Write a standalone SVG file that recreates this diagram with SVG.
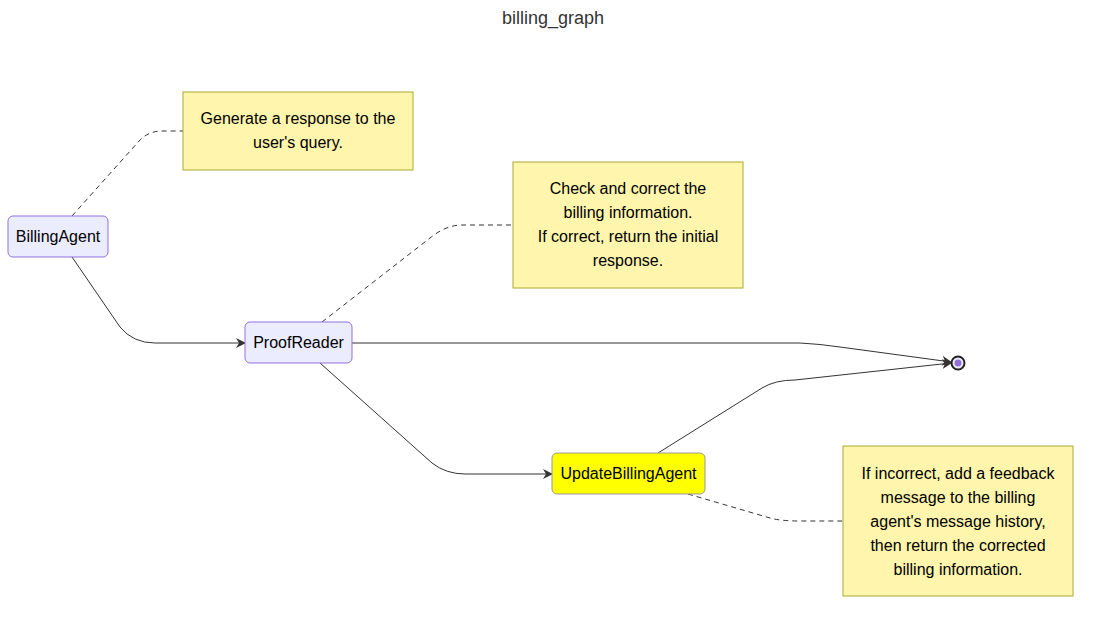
<svg xmlns="http://www.w3.org/2000/svg" width="1107" height="640" viewBox="0 0 1107 640">
<style>
text{font-family:"Liberation Sans",Arial,sans-serif;font-size:16px;fill:#000;text-anchor:middle}
.title{font-size:18px;fill:#333}
.node{fill:#ECECFF;stroke:#9370DB;stroke-width:1}
.note{fill:#fff5ad;stroke:#aaaa33;stroke-width:1}
.edge{fill:none;stroke:#333;stroke-width:1}
.dash{fill:none;stroke:#333;stroke-width:1;stroke-dasharray:5 4}
</style>
<defs>
<marker id="arr" viewBox="0 0 10 10" refX="9" refY="5" markerWidth="10" markerHeight="10" markerUnits="userSpaceOnUse" orient="auto">
<path d="M0,0 L10,5 L0,10 L3,5 z" fill="#333"/>
</marker>
</defs>
<rect width="1107" height="640" fill="#fff"/>
<text class="title" x="553" y="24">billing_graph</text>
<g id="connectors">
<path class="edge" d="M72,257 L120,327 Q133,343 155,343 L245,343" marker-end="url(#arr)"/>
<path class="edge" d="M352,343 L800,343 Q820,344 840,347 L951,362" marker-end="url(#arr)"/>
<path class="edge" d="M320,363 L432,463 Q446,474 465,474 L552,474" marker-end="url(#arr)"/>
<path class="edge" d="M658,453 L762,388 Q775,380 795,380 L951,363" marker-end="url(#arr)"/>
<path class="dash" d="M72,216 L140,140 Q149,131 162,131 L183,131"/>
<path class="dash" d="M322,322 L430,238 Q446,225 462,225 L513,225"/>
<path class="dash" d="M688,494 L770,518 Q780,521 800,521 L843,521"/>
</g>
<g id="BillingAgent">
<rect class="node" x="8" y="216" width="100" height="41" rx="5"/>
<text x="58" y="242">BillingAgent</text>
</g>
<g id="ProofReader">
<rect class="node" x="245" y="322" width="107" height="41" rx="5"/>
<text x="298.5" y="348">ProofReader</text>
</g>
<g id="UpdateBillingAgent">
<rect x="552" y="453" width="153" height="41" rx="5" fill="#ffff00" stroke="#999" stroke-width="1"/>
<text x="628.5" y="479">UpdateBillingAgent</text>
</g>
<g id="end">
<circle cx="958" cy="363" r="6.5" fill="#ECECFF" stroke="#222" stroke-width="2"/>
<circle cx="958" cy="363" r="3.5" fill="#9370DB"/>
</g>
<g id="note1">
<rect class="note" x="183" y="92" width="230" height="78"/>
<text x="298" y="124">Generate a response to the</text>
<text x="298" y="148">user's query.</text>
</g>
<g id="note2">
<rect class="note" x="513" y="162" width="230" height="126"/>
<text x="628" y="194">Check and correct the</text>
<text x="628" y="218">billing information.</text>
<text x="628" y="242">If correct, return the initial</text>
<text x="628" y="266">response.</text>
</g>
<g id="note3">
<rect class="note" x="843" y="446" width="230" height="150"/>
<text x="958" y="479">If incorrect, add a feedback</text>
<text x="958" y="503">message to the billing</text>
<text x="958" y="527">agent's message history,</text>
<text x="958" y="551">then return the corrected</text>
<text x="958" y="575">billing information.</text>
</g>
</svg>
